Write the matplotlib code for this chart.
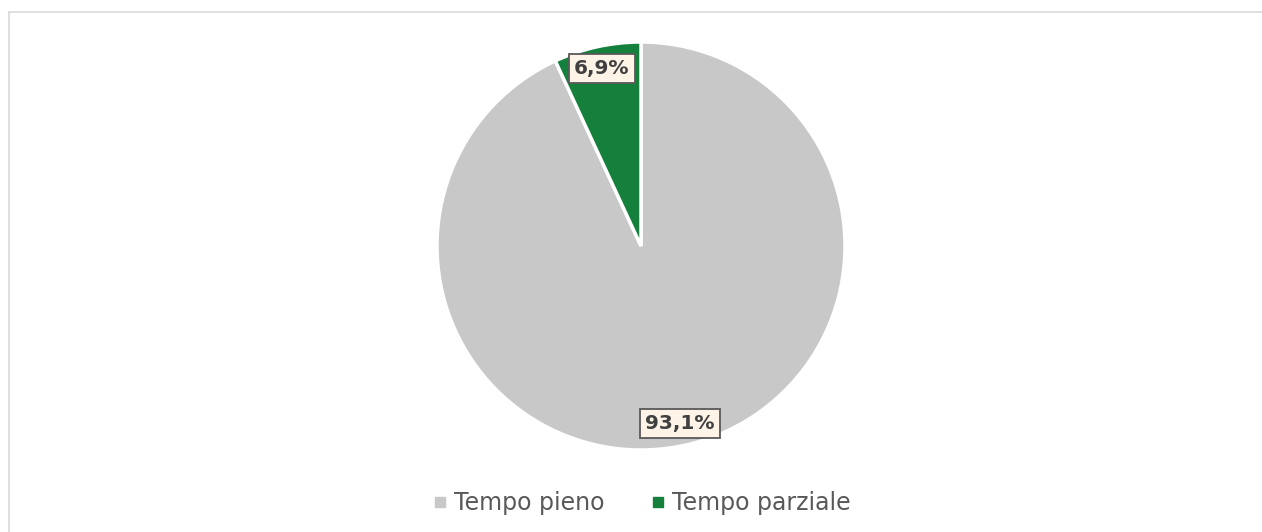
import matplotlib.pyplot as plt
from matplotlib.lines import Line2D

# dati
categorie = ['Tempo pieno', 'Tempo parziale']
valori = [93.1, 6.9]
colori = ['#C8C8C8', '#157F3C']

W, H = 1262, 532
fig = plt.figure(figsize=(W / 100, H / 100), dpi=100)

# cornice grigia chiara
fig.add_artist(Line2D([9 / W, 9 / W], [0, 1 - 12 / H], color='#D9D9D9', lw=1.2))
fig.add_artist(Line2D([9 / W, 1], [1 - 12 / H, 1 - 12 / H], color='#D9D9D9', lw=1.2))

# centro e raggio della torta in pixel
cx, cy, r = 641, 532 - 246, 204
ax = fig.add_axes([(cx - r) / W, (cy - r) / H, 2 * r / W, 2 * r / H])


def fmt(p):
    return f'{p:.1f}%'.replace('.', ',')


wedges, texts, autotexts = ax.pie(
    valori, colors=colori, startangle=90, counterclock=False,
    autopct=fmt, pctdistance=0.89,
    wedgeprops=dict(edgecolor='white', linewidth=2.5),
    textprops=dict(fontsize=14.5, fontweight='bold', color='#404040'))

for t in autotexts:
    t.set_bbox(dict(boxstyle='square,pad=0.25', facecolor='#FDF3E7',
                    edgecolor='#595959', linewidth=1.3))

ax.set_xlim(-1, 1)
ax.set_ylim(-1, 1)
ax.set_aspect('equal')
ax.axis('off')

handles = [Line2D([], [], marker='s', linestyle='none', markersize=7,
                  color=c) for c in colori]
fig.legend(handles, categorie, loc='center', bbox_to_anchor=(cx / W, 1 - 503 / H),
           ncol=2, frameon=False, fontsize=17, labelcolor='#595959',
           handletextpad=0.25, columnspacing=1.9, handlelength=0.7)

fig.savefig('out.png', dpi=100, facecolor='white')
